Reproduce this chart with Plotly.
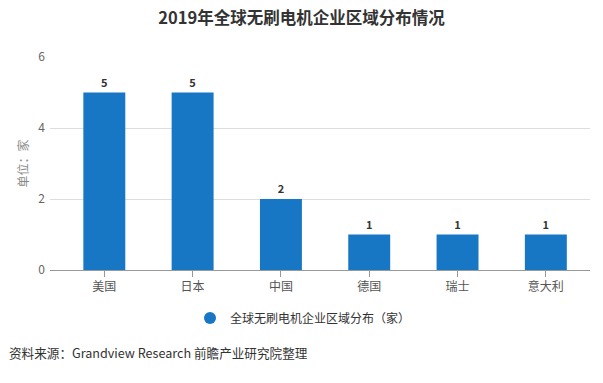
import plotly.graph_objects as go

categories = ["美国", "日本", "中国", "德国", "瑞士", "意大利"]
values = [5, 5, 2, 1, 1, 1]
series_name = "全球无刷电机企业区域分布（家）"
title_text = "2019年全球无刷电机企业区域分布情况"
y_title = "单位：家"
source_text = "资料来源：Grandview Research 前瞻产业研究院整理"

FONT = "Noto Sans CJK SC, sans-serif"
BAR_COLOR = "#1777C4"

fig = go.Figure()
fig.add_trace(go.Bar(
    x=list(range(len(categories))),
    y=values,
    name=series_name,
    marker=dict(color=BAR_COLOR, line=dict(width=0)),
    width=0.475,
    text=[str(v) for v in values],
    textposition="outside",
    textfont=dict(size=11, color="#333333", family=FONT),
    texttemplate="<b>%{text}</b>",
    cliponaxis=False,
    showlegend=False,
))
# legend entry with circular symbol
fig.add_trace(go.Scatter(
    x=[None], y=[None], mode="markers", name=series_name,
    marker=dict(symbol="circle", size=11, color=BAR_COLOR),
    showlegend=True,
))

PLOT_H = 383 - 57 - 113

fig.update_layout(
    width=603, height=383,
    margin=dict(l=50, r=13, t=57, b=113, autoexpand=False),
    paper_bgcolor="white", plot_bgcolor="white",
    font=dict(family=FONT, color="#666666", size=12),
    title=dict(text="<b>" + title_text + "</b>", x=0.5, xref="container", xanchor="center",
               y=1 - 18 / 383, yanchor="middle",
               font=dict(size=16.5, color="#333333", family=FONT)),
    showlegend=True,
    legend=dict(orientation="h", x=(303 - 50) / 540, xref="paper", xanchor="center",
                y=(270 - 318) / PLOT_H, yref="paper", yanchor="middle",
                font=dict(size=12, color="#333333", family=FONT),
                itemsizing="constant", itemwidth=30),
    xaxis=dict(
        tickmode="array", tickvals=list(range(len(categories))), ticktext=categories,
        range=[-0.615, 5.5], showgrid=False, zeroline=False,
        showline=True, linecolor="#999999", linewidth=1,
        ticks="outside", ticklen=6, tickcolor="#999999",
        tickfont=dict(size=12, color="#555555"),
        automargin=False,
    ),
    yaxis=dict(
        range=[0, 6], dtick=2, showgrid=True, gridcolor="#dddddd", gridwidth=1,
        zeroline=False, showline=False, ticks="", ticklabelstandoff=4,
        tickfont=dict(size=12, color="#666666"),
        automargin=False,
    ),
    annotations=[
        dict(text=y_title, xref="paper", yref="paper", x=0, y=0.5, xanchor="center",
             yanchor="middle", showarrow=False, xshift=-28, textangle=-90,
             font=dict(size=12, color="#888888", family=FONT)),
        dict(text=source_text, xref="paper", yref="paper", x=0, y=0, xanchor="left",
             yanchor="middle", showarrow=False, xshift=-43, yshift=-(352 - 270),
             font=dict(size=12.6, color="#333333", family=FONT)),
    ],
)

fig.write_html("out.html", config={"displayModeBar": False},
               post_script="document.body.style.margin='0px';")
